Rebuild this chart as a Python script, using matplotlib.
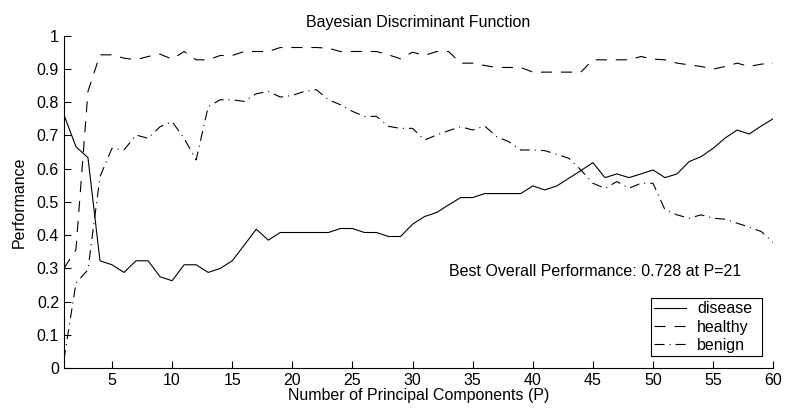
import numpy as np
import matplotlib
matplotlib.use("Agg")
import matplotlib.pyplot as plt

# number of principal components
p = np.arange(1, 61)

disease = [
    0.762, 0.666, 0.633, 0.323, 0.311, 0.288, 0.323, 0.323, 0.275, 0.263,
    0.311, 0.311, 0.288, 0.300, 0.323, 0.370, 0.418, 0.385, 0.408, 0.408,
    0.408, 0.408, 0.408, 0.420, 0.420, 0.408, 0.408, 0.396, 0.396, 0.433,
    0.456, 0.468, 0.491, 0.513, 0.513, 0.525, 0.525, 0.525, 0.525, 0.548,
    0.536, 0.548, 0.571, 0.594, 0.618, 0.573, 0.584, 0.573, 0.584, 0.596,
    0.573, 0.584, 0.621, 0.636, 0.661, 0.692, 0.716, 0.704, 0.728, 0.750,
]
healthy = [
    0.300, 0.356, 0.832, 0.942, 0.942, 0.932, 0.927, 0.937, 0.944, 0.929,
    0.952, 0.927, 0.927, 0.940, 0.940, 0.952, 0.952, 0.952, 0.964, 0.964,
    0.964, 0.964, 0.962, 0.952, 0.952, 0.952, 0.952, 0.942, 0.930, 0.950,
    0.940, 0.952, 0.952, 0.917, 0.917, 0.910, 0.904, 0.904, 0.904, 0.890,
    0.890, 0.890, 0.890, 0.890, 0.927, 0.927, 0.927, 0.927, 0.937, 0.929,
    0.927, 0.917, 0.912, 0.907, 0.899, 0.907, 0.917, 0.907, 0.914, 0.917,
]
benign = [
    0.025, 0.256, 0.296, 0.576, 0.661, 0.656, 0.701, 0.691, 0.726, 0.741,
    0.691, 0.626, 0.786, 0.807, 0.807, 0.802, 0.825, 0.832, 0.815, 0.820,
    0.832, 0.837, 0.807, 0.792, 0.772, 0.757, 0.757, 0.727, 0.721, 0.721,
    0.686, 0.701, 0.714, 0.726, 0.716, 0.728, 0.696, 0.681, 0.656, 0.656,
    0.654, 0.643, 0.631, 0.596, 0.556, 0.541, 0.561, 0.541, 0.556, 0.556,
    0.476, 0.461, 0.451, 0.461, 0.451, 0.448, 0.436, 0.424, 0.411, 0.378,
]

best_text = "Best Overall Performance: 0.728 at P=21"

plt.rcParams.update({
    "font.family": ["Liberation Sans", "DejaVu Sans"],
    "font.size": 11.5,
    "axes.linewidth": 0.8,
})

fig = plt.figure(figsize=(7.89, 4.18), dpi=100)
ax = fig.add_axes([0.081, 0.119, 0.899, 0.796])

ax.plot(p, disease, color="black", linewidth=0.8, linestyle="-", label="disease")
ax.plot(p, healthy, color="black", linewidth=0.8, linestyle=(0, (10, 8)), label="healthy")
ax.plot(p, benign, color="black", linewidth=0.8, linestyle=(0, (9, 4.5, 1, 4.5)), label="benign")

ax.set_xlim(1, 60)
ax.set_ylim(0, 1)
ax.set_xticks(np.arange(5, 61, 5))
ax.set_yticks(np.arange(0, 1.01, 0.1))
ax.set_yticklabels(["0", "0.1", "0.2", "0.3", "0.4", "0.5", "0.6", "0.7", "0.8", "0.9", "1"])
ax.tick_params(direction="in", length=5, width=0.8, pad=3.5)

ax.spines["top"].set_visible(False)
ax.spines["right"].set_visible(False)

ax.set_title("Bayesian Discriminant Function", fontsize=11.5, pad=6)
ax.set_xlabel("Number of Principal Components (P)", labelpad=0)
ax.set_ylabel("Performance", labelpad=7)

ax.text(33, 0.29, best_text, fontsize=11.5, ha="left", va="center")

leg = ax.legend(loc="lower right", bbox_to_anchor=(0.8276, 0.037, 0.157, 0.2), mode="expand",
                borderaxespad=0, fancybox=False, framealpha=1, edgecolor="black",
                handlelength=2.0, borderpad=0.2, labelspacing=0.2, handletextpad=0.7)
leg.get_frame().set_linewidth(0.8)

fig.savefig("out.png", dpi=100)
